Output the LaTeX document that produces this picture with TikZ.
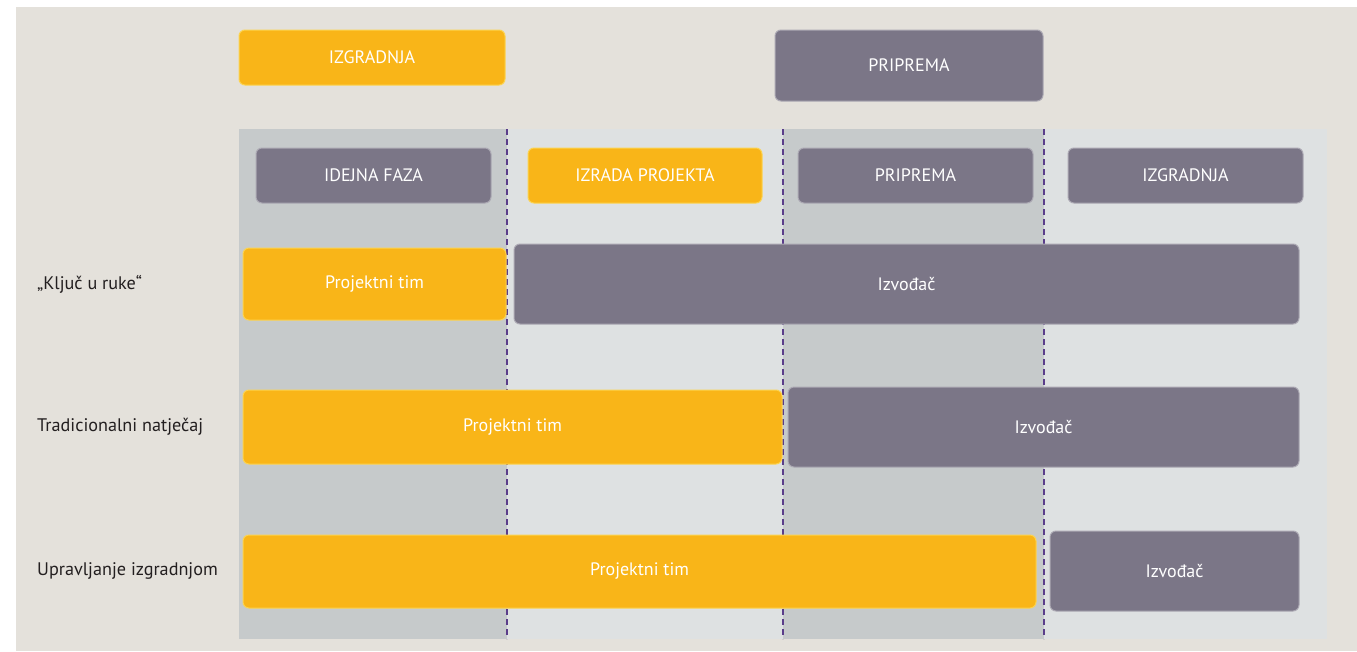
\documentclass[tikz,border=0pt]{standalone}
\usepackage{fontspec}
\setmainfont{PT Sans}
\definecolor{bgc}{HTML}{E4E1DB}
\definecolor{coldark}{HTML}{C6CACB}
\definecolor{collight}{HTML}{DEE1E2}
\definecolor{orng}{HTML}{F9B518}
\definecolor{orngb}{HTML}{FCD34F}
\definecolor{gry}{HTML}{7B7687}
\definecolor{gryb}{HTML}{ABA8B3}
\definecolor{purp}{HTML}{5A3D8A}
\definecolor{txt}{HTML}{231F20}
\tikzset{
  obox/.style={draw=orngb, line width=1pt, fill=orng, rounded corners=6pt, text=white, font=\fontsize{18}{20}\selectfont, inner sep=0pt},
  gbox/.style={draw=gryb, line width=1pt, fill=gry, rounded corners=6pt, text=white, font=\fontsize{18}{20}\selectfont, inner sep=0pt},
  rowlabel/.style={anchor=west, text=txt, font=\fontsize{18.2}{20}\selectfont, inner sep=0pt},
  divider/.style={draw=purp, line width=2.8pt, dash pattern=on 6pt off 4pt}
}
\begin{document}
\begin{tikzpicture}[x=1pt,y=-1pt]
\useasboundingbox (0,0) rectangle (1357,651);
\fill[white] (0,0) rectangle (1357,651);
\fill[bgc] (16,7) rectangle (1357,651);
% columns
\fill[coldark] (239,129) rectangle (507,639);
\fill[collight] (507,129) rectangle (783,639);
\fill[coldark] (783,129) rectangle (1044,639);
\fill[collight] (1044,129) rectangle (1327,639);
\coordinate (d1t) at (507,129); \coordinate (d1b) at (507,639);
\coordinate (d2t) at (783,129); \coordinate (d2b) at (783,639);
\coordinate (d3t) at (1044,129); \coordinate (d3b) at (1044,639);
\draw[divider] (d1t) -- (d1b);
\draw[divider] (d2t) -- (d2b);
\draw[divider] (d3t) -- (d3b);
% top boxes
\node[obox, minimum width=266pt, minimum height=55pt] (topizg) at (372,57.5) {IZGRADNJA};
\node[gbox, minimum width=268pt, minimum height=71pt] (toppri) at (909,65.5) {PRIPREMA};
% header boxes
\node[gbox, minimum width=235pt, minimum height=55pt] (h1) at (373.5,175.5) {IDEJNA FAZA};
\node[obox, minimum width=234pt, minimum height=55pt] (h2) at (645,175.5) {IZRADA PROJEKTA};
\node[gbox, minimum width=235pt, minimum height=55pt] (h3) at (915.5,175.5) {PRIPREMA};
\node[gbox, minimum width=235pt, minimum height=55pt] (h4) at (1185.5,175.5) {IZGRADNJA};
% rows
\node[obox, minimum width=263pt, minimum height=72pt] (r1p) at (374.5,284) {Projektni tim};
\node[gbox, minimum width=785pt, minimum height=80pt] (r1i) at (906.5,284) {Izvođač};
\node[obox, minimum width=539pt, minimum height=74pt] (r2p) at (512.5,427) {Projektni tim};
\node[gbox, minimum width=511pt, minimum height=80pt] (r2i) at (1043.5,427) {Izvođač};
\node[obox, minimum width=793pt, minimum height=73pt] (r3p) at (639.5,571.5) {Projektni tim};
\node[gbox, minimum width=249pt, minimum height=80pt] (r3i) at (1174.5,571) {Izvođač};
% labels
\node[rowlabel] (l1) at (37,284) {„Ključ u ruke“};
\node[rowlabel] (l2) at (37,427) {Tradicionalni natječaj};
\node[rowlabel] (l3) at (37,571) {Upravljanje izgradnjom};
\end{tikzpicture}
\end{document}
